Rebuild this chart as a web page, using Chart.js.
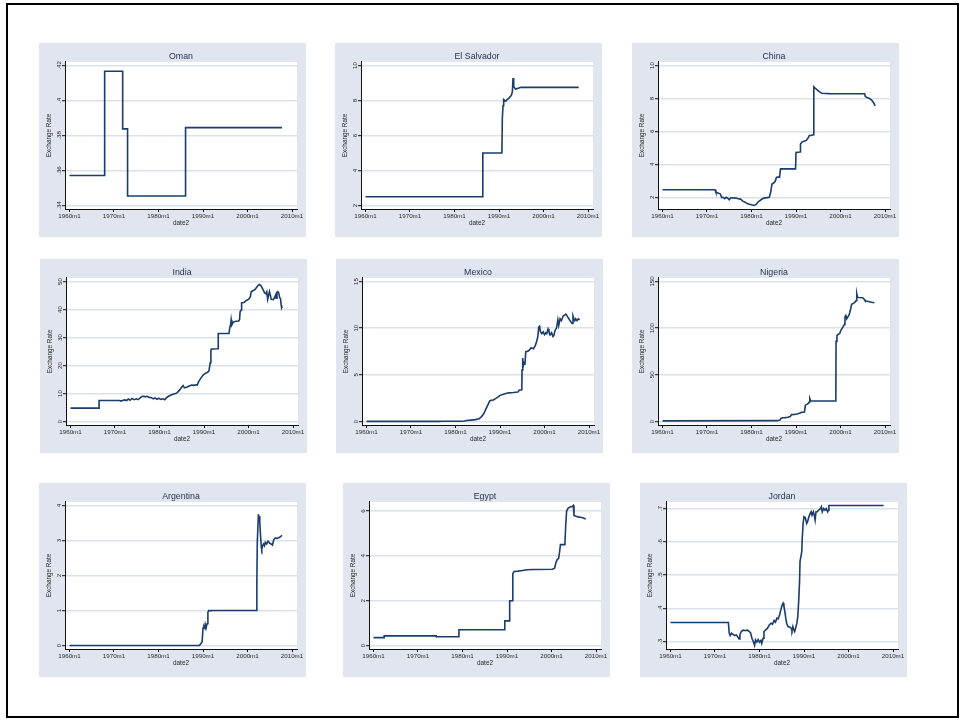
<!DOCTYPE html>
<html>
<head>
<meta charset="utf-8">
<title>Exchange Rate by country</title>
<script src="https://cdn.jsdelivr.net/npm/chart.js@4.4.1/dist/chart.umd.min.js"></script>
<style>
  html, body { margin: 0; padding: 0; background: #ffffff; }
  body { width: 966px; height: 721px; position: relative; overflow: hidden; }
  #frame { position: absolute; left: 6px; top: 3px; width: 949px; height: 711px; border: 2px solid #000; box-sizing: content-box; }
  .panel { position: absolute; width: 267px; height: 194px; background: #e0e5ef; }
  .panel canvas { display: block; }
</style>
</head>
<body>
<div id="frame"></div>
<script>
// ---- data -------------------------------------------------------------
const countries = ['Oman', 'El Salvador', 'China', 'India', 'Mexico', 'Nigeria', 'Argentina', 'Egypt', 'Jordan'];

const yearTicks = [1960, 1970, 1980, 1990, 2000, 2010];
const yearTickLabels = ['1960m1', '1970m1', '1980m1', '1990m1', '2000m1', '2010m1'];

// [year, local currency units per US dollar]
const omanSeries = [
  [1960.0, 0.3571], [1967.9, 0.3571], [1967.9, 0.4167], [1971.95, 0.4167], [1971.95, 0.3838],
  [1973.05, 0.3838], [1973.05, 0.3454], [1986.08, 0.3454], [1986.08, 0.3845], [2007.75, 0.3845]
];
const salvadorSeries = [
  [1960.0, 2.5], [1986.36, 2.5], [1986.36, 5.0], [1990.65, 5.0], [1990.75, 7.0], [1990.9, 7.7],
  [1991.05, 8.05], [1991.5, 7.95], [1991.8, 8.05], [1992.3, 8.15], [1992.8, 8.3], [1993.0, 8.5],
  [1993.15, 9.28], [1993.3, 8.8], [1993.7, 8.65], [1994.3, 8.7], [1995.0, 8.75], [2007.9, 8.75]
];
const chinaSeries = [
  [1960.0, 2.46], [1971.8, 2.46], [1972.0, 2.3], [1972.6, 2.25], [1973.0, 2.2], [1973.3, 1.98],
  [1973.6, 2.0], [1974.0, 1.92], [1974.3, 2.0], [1974.6, 1.96], [1975.0, 1.85], [1975.3, 1.95],
  [1975.7, 1.97], [1976.5, 1.95], [1977.2, 1.9], [1977.6, 1.88], [1978.1, 1.75], [1978.6, 1.7],
  [1979.0, 1.62], [1979.5, 1.58], [1980.0, 1.55], [1980.6, 1.5], [1981.0, 1.55], [1981.4, 1.7],
  [1981.8, 1.78], [1982.3, 1.88], [1982.8, 1.95], [1983.5, 1.98], [1984.0, 2.0], [1984.3, 2.3],
  [1984.6, 2.8], [1984.9, 2.85], [1985.3, 2.95], [1985.6, 3.2], [1985.9, 3.22], [1986.3, 3.22],
  [1986.5, 3.7], [1986.6, 3.72], [1989.9, 3.72], [1990.0, 4.72], [1990.9, 4.75], [1991.0, 5.22],
  [1991.3, 5.35], [1991.8, 5.4], [1992.3, 5.45], [1992.6, 5.55], [1993.0, 5.75], [1993.4, 5.75],
  [1993.95, 5.8], [1994.0, 8.7], [1994.4, 8.6], [1994.8, 8.5], [1995.3, 8.4], [1995.8, 8.31],
  [1997.5, 8.29], [2005.4, 8.28], [2005.6, 8.1], [2006.0, 8.05], [2006.5, 8.0], [2007.0, 7.9],
  [2007.4, 7.75], [2007.8, 7.55]
];
const indiaSeries = [
  [1960.0, 4.76], [1966.42, 4.76], [1966.42, 7.5], [1971.0, 7.5], [1971.3, 7.3], [1971.7, 7.5],
  [1972.2, 7.7], [1972.6, 7.5], [1973.0, 8.0], [1973.4, 7.6], [1973.8, 8.2], [1974.3, 7.8],
  [1974.8, 8.1], [1975.2, 7.8], [1975.6, 8.3], [1976.0, 8.9], [1976.5, 9.0], [1976.8, 8.8],
  [1977.2, 9.0], [1977.7, 8.6], [1978.2, 8.5], [1978.6, 8.1], [1979.0, 8.4], [1979.4, 7.9],
  [1979.8, 8.3], [1980.3, 7.9], [1980.8, 8.1], [1981.2, 7.8], [1981.6, 8.5], [1982.0, 9.0],
  [1982.5, 9.4], [1983.0, 9.7], [1983.6, 10.0], [1984.0, 10.3], [1984.5, 11.2], [1985.0, 12.3],
  [1985.3, 12.8], [1985.6, 12.0], [1986.2, 12.3], [1986.7, 12.7], [1987.2, 13.0], [1987.7, 12.9],
  [1988.2, 13.1], [1988.5, 13.0], [1988.7, 14.0], [1989.3, 15.5], [1989.8, 16.6], [1990.3, 17.2],
  [1990.8, 17.6], [1991.1, 18.0], [1991.4, 21.0], [1991.55, 25.5], [1991.7, 25.9], [1993.15, 26.0],
  [1993.2, 31.4], [1995.6, 31.4], [1995.8, 33.5], [1996.0, 34.8], [1996.1, 36.3], [1996.25, 34.5],
  [1996.6, 35.5], [1997.2, 35.8], [1997.8, 35.9], [1998.0, 36.5], [1998.1, 39.2], [1998.35, 39.8],
  [1998.45, 42.4], [1999.0, 42.5], [1999.5, 43.2], [2000.0, 43.6], [2000.4, 44.5], [2000.6, 46.3],
  [2001.0, 46.7], [2001.5, 47.2], [2002.0, 48.3], [2002.4, 48.9], [2002.8, 48.5], [2003.2, 47.3],
  [2003.6, 46.0], [2003.9, 45.6], [2004.1, 46.3], [2004.3, 43.6], [2004.5, 45.0], [2004.7, 46.4],
  [2004.9, 45.2], [2005.1, 43.6], [2005.6, 43.5], [2005.9, 44.5], [2006.1, 45.2], [2006.2, 44.0],
  [2006.4, 46.2], [2006.6, 46.4], [2006.8, 45.9], [2007.0, 44.2], [2007.2, 43.8], [2007.35, 41.5],
  [2007.45, 40.6], [2007.6, 41.0]
];
const mexicoSeries = [
  [1960.0, 0.0125], [1976.6, 0.0125], [1976.8, 0.02], [1977.5, 0.023], [1981.5, 0.025], [1982.0, 0.05],
  [1982.5, 0.1], [1983.5, 0.15], [1984.5, 0.2], [1985.3, 0.3], [1985.8, 0.5], [1986.3, 0.8],
  [1986.8, 1.3], [1987.3, 1.8], [1987.7, 2.2], [1988.0, 2.27], [1988.5, 2.3], [1989.0, 2.45],
  [1989.5, 2.6], [1990.0, 2.8], [1990.6, 2.9], [1991.3, 3.0], [1992.0, 3.07], [1993.0, 3.1],
  [1994.0, 3.15], [1994.3, 3.35], [1994.9, 3.4], [1994.95, 5.5], [1995.1, 6.8], [1995.2, 5.9],
  [1995.4, 6.3], [1995.6, 6.2], [1995.8, 7.5], [1996.1, 7.5], [1996.5, 7.6], [1997.0, 7.9],
  [1997.5, 7.8], [1997.9, 8.1], [1998.2, 8.5], [1998.5, 9.1], [1998.7, 10.1], [1998.9, 10.2],
  [1999.1, 9.6], [1999.4, 9.4], [1999.7, 9.6], [2000.0, 9.3], [2000.3, 9.5], [2000.5, 9.4],
  [2000.8, 9.9], [2001.0, 9.6], [2001.3, 9.3], [2001.6, 9.5], [2001.9, 9.1], [2002.1, 9.2],
  [2002.4, 9.8], [2002.7, 10.0], [2003.0, 10.9], [2003.2, 10.3], [2003.5, 11.0], [2003.8, 10.8],
  [2004.2, 11.3], [2004.5, 11.4], [2004.8, 11.5], [2005.2, 11.2], [2005.6, 10.9], [2005.9, 10.7],
  [2006.2, 10.5], [2006.4, 11.3], [2006.6, 11.0], [2006.8, 10.8], [2007.0, 11.0], [2007.3, 10.8],
  [2007.6, 11.0], [2007.9, 10.9]
];
const nigeriaSeries = [
  [1960.0, 0.71], [1985.8, 0.9], [1986.4, 1.5], [1986.6, 3.3], [1987.0, 4.0], [1987.6, 4.2],
  [1988.2, 4.5], [1988.7, 5.3], [1989.0, 7.4], [1989.6, 7.6], [1990.3, 8.0], [1990.9, 9.0],
  [1991.2, 9.8], [1991.6, 9.9], [1991.9, 10.2], [1992.1, 17.5], [1992.5, 18.6], [1992.8, 19.5],
  [1993.0, 21.0], [1993.1, 24.5], [1993.3, 21.9], [1998.95, 21.9], [1999.0, 86.0], [1999.2, 92.0],
  [1999.5, 93.5], [1999.8, 94.0], [2000.1, 98.0], [2000.4, 100.0], [2000.7, 102.5], [2000.9, 104.0],
  [2001.0, 112.0], [2001.2, 113.5], [2001.4, 110.0], [2001.6, 111.5], [2001.9, 114.0], [2002.1, 117.0],
  [2002.3, 121.0], [2002.5, 125.5], [2002.9, 126.5], [2003.3, 128.0], [2003.5, 129.5], [2003.65, 137.0],
  [2003.8, 133.5], [2004.0, 132.8], [2005.0, 132.5], [2005.3, 131.0], [2005.5, 129.5], [2005.8, 129.0],
  [2006.5, 128.3], [2007.0, 127.8], [2007.6, 127.3]
];
const argentinaSeries = [
  [1960.0, 0.0], [1989.2, 0.0], [1989.5, 0.05], [1989.8, 0.1], [1990.0, 0.5], [1990.2, 0.55],
  [1990.4, 0.5], [1990.5, 0.6], [1990.7, 0.5], [1990.9, 0.62], [1991.1, 0.95], [1991.3, 1.0],
  [1991.6, 0.99], [1992.0, 1.0], [2002.0, 1.0], [2002.1, 1.8], [2002.2, 2.95], [2002.35, 2.95],
  [2002.45, 3.75], [2002.6, 3.6], [2002.7, 3.7], [2002.8, 3.55], [2002.9, 3.2], [2003.1, 2.8],
  [2003.2, 2.75], [2003.4, 2.85], [2003.6, 2.9], [2003.8, 2.85], [2004.0, 2.95], [2004.3, 2.9],
  [2004.6, 2.98], [2005.0, 2.92], [2005.3, 2.9], [2005.6, 2.87], [2005.9, 3.02], [2006.2, 3.07],
  [2006.6, 3.06], [2007.0, 3.08], [2007.3, 3.1], [2007.5, 3.12], [2007.75, 3.15]
];
const egyptSeries = [
  [1960.0, 0.35], [1962.4, 0.35], [1962.4, 0.43], [1974.1, 0.43], [1974.1, 0.39], [1979.2, 0.39],
  [1979.2, 0.7], [1989.5, 0.7], [1989.5, 1.1], [1990.6, 1.1], [1990.6, 2.0], [1991.15, 2.0],
  [1991.3, 3.2], [1991.6, 3.3], [1992.5, 3.32], [1993.5, 3.35], [1994.5, 3.38], [1996.0, 3.39],
  [2000.2, 3.4], [2000.7, 3.45], [2001.0, 3.7], [2001.3, 3.85], [2001.6, 3.88], [2001.8, 4.15],
  [2002.0, 4.5], [2003.0, 4.5], [2003.2, 5.4], [2003.4, 6.0], [2003.7, 6.12], [2004.2, 6.18],
  [2004.6, 6.2], [2004.9, 6.25], [2005.05, 5.8], [2005.5, 5.77], [2006.0, 5.74], [2006.5, 5.72],
  [2007.0, 5.7], [2007.7, 5.65]
];
const jordanSeries = [
  [1960.0, 0.357], [1973.0, 0.357], [1973.2, 0.325], [1973.4, 0.318], [1973.7, 0.325], [1974.0, 0.322],
  [1974.4, 0.318], [1974.8, 0.32], [1975.2, 0.312], [1975.4, 0.308], [1975.6, 0.32], [1975.9, 0.33],
  [1976.3, 0.334], [1976.8, 0.333], [1977.3, 0.334], [1977.7, 0.33], [1978.0, 0.326], [1978.3, 0.31],
  [1978.6, 0.3], [1978.9, 0.288], [1979.1, 0.305], [1979.4, 0.298], [1979.7, 0.306], [1980.0, 0.298],
  [1980.3, 0.303], [1980.5, 0.294], [1980.8, 0.31], [1981.0, 0.33], [1981.4, 0.335], [1981.8, 0.34],
  [1982.2, 0.35], [1982.6, 0.355], [1982.9, 0.352], [1983.3, 0.363], [1983.6, 0.358], [1983.9, 0.37],
  [1984.2, 0.368], [1984.5, 0.38], [1984.8, 0.395], [1985.1, 0.41], [1985.3, 0.415], [1985.5, 0.405],
  [1985.7, 0.39], [1985.9, 0.37], [1986.1, 0.355], [1986.4, 0.345], [1986.8, 0.343], [1987.1, 0.34],
  [1987.3, 0.333], [1987.5, 0.345], [1987.7, 0.335], [1987.9, 0.33], [1988.1, 0.34], [1988.4, 0.355],
  [1988.6, 0.375], [1988.8, 0.42], [1989.0, 0.48], [1989.1, 0.54], [1989.3, 0.54], [1989.5, 0.57],
  [1989.6, 0.61], [1989.8, 0.655], [1990.0, 0.675], [1990.3, 0.672], [1990.6, 0.655], [1990.8, 0.66],
  [1991.1, 0.675], [1991.4, 0.685], [1991.6, 0.69], [1991.8, 0.68], [1992.1, 0.69], [1992.3, 0.68],
  [1992.5, 0.665], [1992.7, 0.69], [1993.0, 0.69], [1993.3, 0.695], [1993.6, 0.698], [1993.9, 0.705],
  [1994.1, 0.69], [1994.4, 0.7], [1994.7, 0.695], [1995.0, 0.7], [1995.3, 0.69], [1995.5, 0.695],
  [1995.6, 0.709], [2007.9, 0.709]
];

// y-axis tick values and their printed labels
const omanTicks = [0.34, 0.36, 0.38, 0.40, 0.42];
const omanTickLabels = ['.34', '.36', '.38', '.4', '.42'];
const salvadorTicks = [2, 4, 6, 8, 10];
const salvadorTickLabels = ['2', '4', '6', '8', '10'];
const chinaTicks = [2, 4, 6, 8, 10];
const chinaTickLabels = ['2', '4', '6', '8', '10'];
const indiaTicks = [0, 10, 20, 30, 40, 50];
const indiaTickLabels = ['0', '10', '20', '30', '40', '50'];
const mexicoTicks = [0, 5, 10, 15];
const mexicoTickLabels = ['0', '5', '10', '15'];
const nigeriaTicks = [0, 50, 100, 150];
const nigeriaTickLabels = ['0', '50', '100', '150'];
const argentinaTicks = [0, 1, 2, 3, 4];
const argentinaTickLabels = ['0', '1', '2', '3', '4'];
const egyptTicks = [0, 2, 4, 6];
const egyptTickLabels = ['0', '2', '4', '6'];
const jordanTicks = [0.3, 0.4, 0.5, 0.6, 0.7];
const jordanTickLabels = ['.3', '.4', '.5', '.6', '.7'];

// ---- styling ----------------------------------------------------------
const FONT = '"Liberation Sans", Arial, Helvetica, sans-serif';
const LINE_COLOR = '#1a3d6b';
const AXIS_COLOR = '#111111';
const GRID_COLOR = '#dae1eb';
const TEXT_COLOR = '#262626';
const TITLE_COLOR = '#26324f';
const TICK_SIZE = 6.2;
const AXIS_TITLE_SIZE = 6.4;
const TITLE_SIZE = 8.8;

const PANEL_W = 267, PANEL_H = 194;
const Y_AXIS_W = 26, X_AXIS_H = 28, RIGHT_GAP = 9;
const X_MIN = 1958.99, X_MAX = 2011.12;

const panels = [
  { series: omanSeries,      ticks: omanTicks,      labels: omanTickLabels,      left: 39,  top: 43 },
  { series: salvadorSeries,  ticks: salvadorTicks,  labels: salvadorTickLabels,  left: 335, top: 43 },
  { series: chinaSeries,     ticks: chinaTicks,     labels: chinaTickLabels,     left: 632, top: 43 },
  { series: indiaSeries,     ticks: indiaTicks,     labels: indiaTickLabels,     left: 40,  top: 259 },
  { series: mexicoSeries,    ticks: mexicoTicks,    labels: mexicoTickLabels,    left: 336, top: 259 },
  { series: nigeriaSeries,   ticks: nigeriaTicks,   labels: nigeriaTickLabels,   left: 632, top: 259 },
  { series: argentinaSeries, ticks: argentinaTicks, labels: argentinaTickLabels, left: 39,  top: 483 },
  { series: egyptSeries,     ticks: egyptTicks,     labels: egyptTickLabels,     left: 343, top: 483 },
  { series: jordanSeries,    ticks: jordanTicks,    labels: jordanTickLabels,    left: 640, top: 483 }
];

// white plot region behind the data
const plotBackground = {
  id: 'plotBackground',
  beforeDraw(chart) {
    const { ctx, chartArea: a } = chart;
    ctx.save();
    ctx.fillStyle = '#ffffff';
    ctx.fillRect(a.left, a.top, a.right - a.left, a.bottom - a.top);
    ctx.restore();
  }
};

const measureCtx = document.createElement('canvas').getContext('2d');
function widestLabel(labels) {
  measureCtx.font = TICK_SIZE + 'px ' + FONT;
  return Math.max(...labels.map(l => measureCtx.measureText(l).width));
}

function font(size) {
  return { family: FONT, size: size, weight: 'normal', lineHeight: 1.2 };
}

function drawPanel(p, name) {
  const box = document.createElement('div');
  box.className = 'panel';
  box.style.left = p.left + 'px';
  box.style.top = p.top + 'px';
  const canvas = document.createElement('canvas');
  canvas.width = PANEL_W;
  canvas.height = PANEL_H;
  box.appendChild(canvas);
  document.body.appendChild(box);

  const values = p.series.map(d => d[1]);
  const lo = Math.min(...values, ...p.ticks);
  const hi = Math.max(...values, ...p.ticks);
  const margin = (hi - lo) / 40;
  // rotated labels are centred this far left of the tick end
  const labelPad = 3 - widestLabel(p.labels) / 2;

  new Chart(canvas, {
    type: 'scatter',
    data: {
      datasets: [{
        data: p.series.map(([x, y]) => ({ x, y })),
        showLine: true,
        borderColor: LINE_COLOR,
        borderWidth: 1.6,
        pointRadius: 0,
        pointHoverRadius: 0,
        tension: 0,
        fill: false
      }]
    },
    options: {
      responsive: false,
      animation: false,
      devicePixelRatio: 1,
      events: [],
      layout: { padding: { left: 0, right: RIGHT_GAP, top: 0, bottom: 0 } },
      plugins: {
        legend: { display: false },
        tooltip: { enabled: false },
        title: {
          display: true,
          text: name,
          fullSize: false,
          color: TITLE_COLOR,
          font: font(TITLE_SIZE),
          padding: { top: 8.4, bottom: 0 }
        }
      },
      scales: {
        x: {
          type: 'linear',
          min: X_MIN,
          max: X_MAX,
          afterBuildTicks: s => { s.ticks = yearTicks.map(v => ({ value: v })); },
          afterFit: s => { s.height = X_AXIS_H; s.paddingLeft = 0; s.paddingRight = 0; },
          ticks: {
            autoSkip: false,
            maxRotation: 0,
            minRotation: 0,
            padding: 0.3,
            color: TEXT_COLOR,
            font: font(TICK_SIZE),
            callback: (v, i) => yearTickLabels[i]
          },
          grid: { drawOnChartArea: false, drawTicks: true, tickLength: 3, tickColor: AXIS_COLOR, tickWidth: 1 },
          border: { display: true, color: AXIS_COLOR, width: 1 },
          title: { display: true, text: 'date2', color: TEXT_COLOR, font: font(AXIS_TITLE_SIZE), padding: { top: 0, bottom: 9.8 } }
        },
        y: {
          type: 'linear',
          min: lo - margin,
          max: hi + margin,
          afterBuildTicks: s => { s.ticks = p.ticks.map(v => ({ value: v })); },
          afterFit: s => { s.width = Y_AXIS_W; s.paddingTop = 0; s.paddingBottom = 0; },
          ticks: {
            autoSkip: false,
            minRotation: 90,
            maxRotation: 90,
            crossAlign: 'center',
            padding: labelPad,
            color: TEXT_COLOR,
            font: font(TICK_SIZE),
            callback: (v, i) => p.labels[i]
          },
          grid: { color: GRID_COLOR, lineWidth: 1.4, drawTicks: true, tickLength: 3, tickColor: AXIS_COLOR, tickWidth: 1 },
          border: { display: true, color: AXIS_COLOR, width: 1 },
          title: { display: true, text: 'Exchange Rate', color: TEXT_COLOR, font: font(AXIS_TITLE_SIZE), padding: { top: 6.6, bottom: 0 } }
        }
      }
    },
    plugins: [plotBackground]
  });
}

panels.forEach((p, i) => drawPanel(p, countries[i]));
</script>
</body>
</html>
